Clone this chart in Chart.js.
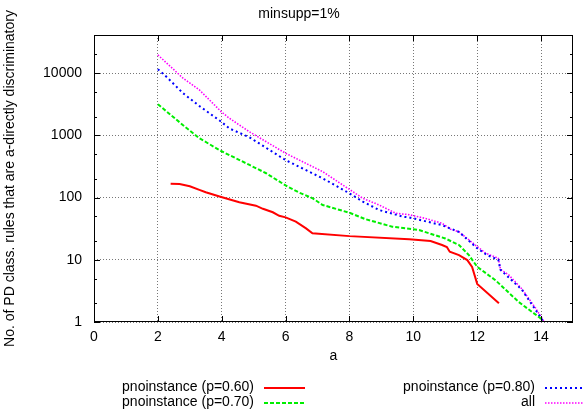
<!DOCTYPE html>
<html><head><meta charset="utf-8">
<script src="https://cdn.jsdelivr.net/npm/chart.js@4/dist/chart.umd.min.js"></script>
<style>html,body{margin:0;padding:0;background:#fff}#wrap{width:583px;height:416px}</style>
</head><body><div id="wrap"><canvas id="c" width="583" height="416"></canvas></div>
<script>
const chartTitle = 'minsupp=1%';
const xTitle = 'a';
const yTitle = 'No. of PD class. rules that are a-directly discriminatory';
const seriesNames = ['pnoinstance (p=0.60)', 'pnoinstance (p=0.70)', 'pnoinstance (p=0.80)', 'all'];
const xTicks = [0, 2, 4, 6, 8, 10, 12, 14];
const yTicks = [1, 10, 100, 1000, 10000];
const yMinorTicks = [2, 5, 20, 50, 200, 500, 2000, 5000, 20000];
const xMin = 0, xMax = 15, yMin = 1, yMax = 41000;

const p60X = [2.4, 2.68, 3.0, 3.3, 3.5, 3.93, 4.55, 5.07, 5.29, 5.6, 5.8, 6.0, 6.32, 6.64, 6.84, 8.0, 9.87, 10.54, 10.9, 11.05, 11.14, 11.43, 11.69, 11.84, 12.0, 12.68];
const p60Y = [167, 165, 152, 133, 122, 104, 84, 74, 66, 58, 51, 48, 41, 32, 26.7, 24, 21.4, 20, 17.3, 16, 13.5, 11.9, 9.9, 7.7, 4.1, 2.0];

const p70X = [2.0, 2.78, 3.3, 3.98, 4.87, 5.39, 6.06, 6.43, 6.85, 7.16, 8.0, 8.5, 9.34, 10.18, 10.49, 11.0, 11.43, 11.74, 12.0, 12.57, 13.3, 13.98, 14.05];
const p70Y = [3160, 1470, 898, 560, 334, 246, 150, 120, 97, 76, 57, 45, 34, 30, 26.7, 22, 17.3, 11.9, 7.7, 4.7, 2.1, 1.15, 1];

const p80X = [2.0, 2.26, 2.79, 3.3, 3.98, 4.24, 4.87, 6.0, 7.16, 8.0, 8.42, 8.93, 9.7, 9.87, 10.9, 11.43, 12.0, 12.31, 12.66, 12.73, 13.4, 13.83, 14.08];
const p80Y = [11550, 8800, 4750, 2960, 1660, 1290, 930, 400, 204, 117, 86, 63, 49, 48, 36, 28, 15.3, 11.9, 10, 6.9, 3.3, 1.56, 1];

const allX = [2.0, 2.79, 3.3, 3.98, 4.24, 4.87, 6.0, 7.16, 8.0, 8.42, 8.93, 9.45, 9.87, 10.39, 10.9, 11.17, 11.43, 12.0, 12.27, 12.66, 12.73, 12.99, 13.4, 13.83, 14.1];
const allY = [19600, 8280, 5370, 2410, 1880, 1140, 515, 261, 135, 97, 76, 56, 53, 46, 38.6, 31, 28, 16.3, 12.7, 10.6, 7.0, 5.7, 3.4, 1.66, 1];

const FONT = "'Liberation Sans', Arial, Helvetica, sans-serif";
Chart.defaults.font.family = FONT;
Chart.defaults.font.size = 14;
Chart.defaults.color = '#000';

const styles = [
  {color: '#ff0000', width: 2, dash: []},
  {color: '#00ee00', width: 2, dash: [4, 2]},
  {color: '#0000ff', width: 2, dash: [2, 3]},
  {color: '#ff00ff', width: 1.6, dash: [1.5, 1.5]}
];
const xs = [p60X, p70X, p80X, allX];
const ys = [p60Y, p70Y, p80Y, allY];

const datasets = seriesNames.map((name, i) => ({
  label: name,
  data: xs[i].map((x, j) => ({x: x, y: ys[i][j]})),
  borderColor: styles[i].color,
  borderWidth: styles[i].width,
  borderDash: styles[i].dash,
  pointRadius: 0,
  fill: false,
  tension: 0
}));

const legendLayout = [
  {textRight: 254, x1: 264, x2: 305, y: 387},
  {textRight: 254, x1: 264, x2: 305, y: 402},
  {textRight: 535, x1: 545, x2: 586, y: 387},
  {textRight: 535, x1: 545, x2: 586, y: 402}
];

const decor = {
  id: 'decor',
  afterDraw(chart) {
    const ctx = chart.ctx;
    const {left, right, top, bottom} = chart.chartArea;
    const sx = chart.scales.x, sy = chart.scales.y;
    ctx.save();
    ctx.strokeStyle = '#000';
    ctx.lineWidth = 1;
    ctx.setLineDash([]);
    ctx.beginPath();
    yTicks.forEach(v => {
      const y = Math.round(sy.getPixelForValue(v)) + 0.5;
      ctx.moveTo(left, y); ctx.lineTo(left + 6, y);
      ctx.moveTo(right, y); ctx.lineTo(right - 6, y);
    });
    yMinorTicks.forEach(v => {
      const y = Math.round(sy.getPixelForValue(v)) + 0.5;
      ctx.moveTo(left, y); ctx.lineTo(left + 3, y);
      ctx.moveTo(right, y); ctx.lineTo(right - 3, y);
    });
    xTicks.forEach(v => {
      const x = Math.round(sx.getPixelForValue(v)) + 0.5;
      ctx.moveTo(x, bottom); ctx.lineTo(x, bottom - 6);
      ctx.moveTo(x, top); ctx.lineTo(x, top + 6);
    });
    ctx.stroke();
    ctx.strokeRect(left + 0.5, top + 0.5, right - left - 1, bottom - top - 1);

    ctx.fillStyle = '#000';
    ctx.font = '14px ' + FONT;
    ctx.textAlign = 'center';
    ctx.textBaseline = 'middle';
    ctx.fillText(chartTitle, 299, 14);

    ctx.textAlign = 'right';
    seriesNames.forEach((name, i) => {
      const L = legendLayout[i], s = styles[i];
      ctx.fillStyle = '#000';
      ctx.fillText(name, L.textRight, L.y);
      ctx.strokeStyle = s.color;
      ctx.lineWidth = s.width;
      ctx.setLineDash(s.dash);
      ctx.beginPath();
      ctx.moveTo(L.x1, L.y + 1);
      ctx.lineTo(L.x2, L.y + 1);
      ctx.stroke();
    });
    ctx.restore();
  }
};

new Chart(document.getElementById('c'), {
  type: 'line',
  data: {datasets: datasets},
  options: {
    responsive: false,
    animation: false,
    devicePixelRatio: 1,
    layout: {padding: {left: 0, right: 10, top: 35, bottom: 0}},
    plugins: {legend: {display: false}, tooltip: {enabled: false}, title: {display: false}},
    scales: {
      x: {
        type: 'linear', min: xMin, max: xMax,
        afterBuildTicks: s => { s.ticks = xTicks.map(v => ({value: v})); },
        afterFit: s => { s.height = 94; },
        ticks: {padding: 7, maxRotation: 0, autoSkip: false, callback: v => String(v), color: '#000'},
        grid: {color: '#777', drawTicks: false, lineWidth: 1},
        border: {display: false, dash: [1, 2]},
        title: {display: true, text: xTitle, color: '#000', padding: {top: 0, bottom: 51}}
      },
      y: {
        type: 'logarithmic', min: yMin, max: yMax,
        afterBuildTicks: s => { s.ticks = yTicks.map(v => ({value: v})); },
        afterFit: s => { s.width = 94; },
        ticks: {padding: 12, autoSkip: false, callback: v => String(v), color: '#000'},
        grid: {color: '#777', drawTicks: false, lineWidth: 1},
        border: {display: false, dash: [1, 2]},
        title: {display: true, text: yTitle, color: '#000', padding: {top: 2, bottom: 0}}
      }
    }
  },
  plugins: [decor]
});
</script></body></html>
